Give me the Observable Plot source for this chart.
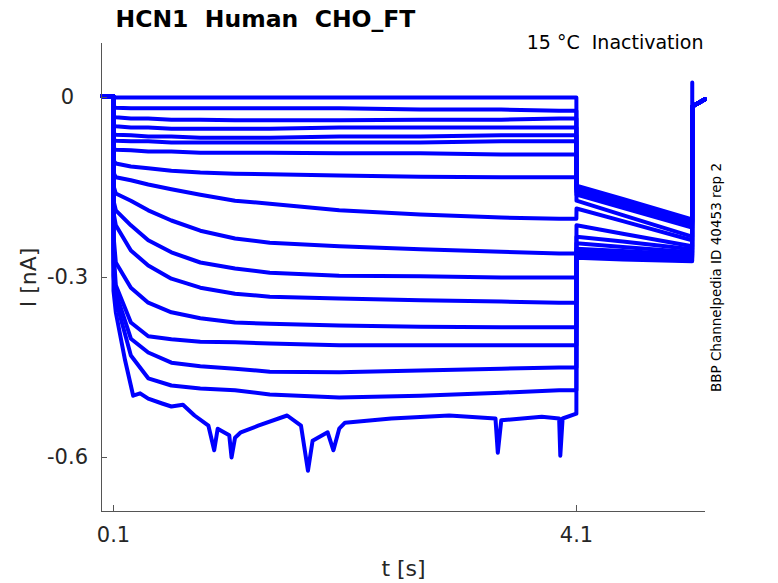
<!DOCTYPE html>
<html><head><meta charset="utf-8">
<script src="https://cdn.jsdelivr.net/npm/d3@7"></script>
<script src="https://cdn.jsdelivr.net/npm/@observablehq/plot@0.6"></script>
<style>body{margin:0;background:#fff} svg{display:block}</style>
</head><body><div id="chart"></div>
<script>
// ---- chart text ----
const titleText = "HCN1\u00a0\u00a0Human\u00a0\u00a0CHO_FT";
const conditionText = "15 °C\u00a0\u00a0Inactivation";
const sourceText = "BBP Channelpedia ID 40453 rep 2";
const xLabel = "t [s]";
const yLabel = "I [nA]";

// ---- axes ----
const tDomain = [-0.0037, 5.2145];
const iDomain = [-0.69, 0.09];
const xTicks = [0.1, 4.1];
const yTicks = [0, -0.3, -0.6];

// ---- protocol times (s) ----
const holdTimes = [0, 0.099];
const holdLevel = 0.002;
const stepTimes = [0.1, 0.12, 0.25, 0.4, 0.6, 0.85, 1.15, 1.45, 2.05, 2.75, 3.45, 3.95, 4.099];
const tailTimes = [4.1, 4.5, 5.099];
const returnTimes = [5.1, 5.21];
const returnLevels = [-0.015, -0.003];
const returnSpike = 0.025;

// ---- currents (nA) during the conditioning step, traces 1..16 ----
const stepCurrents = [
  [0, 0, 0, 0, 0, 0, 0, 0, 0, 0, 0, 0, 0],
  [-0.015, -0.017, -0.018, -0.018, -0.018, -0.018, -0.018, -0.018, -0.018, -0.02, -0.02, -0.022, -0.022],
  [-0.032, -0.033, -0.035, -0.035, -0.037, -0.037, -0.038, -0.038, -0.038, -0.037, -0.037, -0.035, -0.035],
  [-0.047, -0.048, -0.05, -0.05, -0.052, -0.052, -0.052, -0.052, -0.05, -0.05, -0.05, -0.05, -0.05],
  [-0.06, -0.062, -0.063, -0.065, -0.065, -0.067, -0.067, -0.067, -0.065, -0.065, -0.063, -0.063, -0.063],
  [-0.07, -0.072, -0.073, -0.073, -0.075, -0.075, -0.075, -0.075, -0.075, -0.075, -0.073, -0.073, -0.073],
  [-0.085, -0.087, -0.088, -0.09, -0.09, -0.092, -0.092, -0.092, -0.093, -0.093, -0.095, -0.095, -0.095],
  [-0.105, -0.11, -0.115, -0.118, -0.122, -0.125, -0.127, -0.128, -0.13, -0.132, -0.133, -0.133, -0.133],
  [-0.125, -0.133, -0.138, -0.145, -0.153, -0.162, -0.172, -0.177, -0.188, -0.195, -0.2, -0.202, -0.202],
  [-0.147, -0.16, -0.172, -0.188, -0.205, -0.222, -0.235, -0.242, -0.248, -0.253, -0.257, -0.26, -0.26],
  [-0.172, -0.188, -0.213, -0.238, -0.258, -0.275, -0.285, -0.292, -0.297, -0.298, -0.3, -0.3, -0.3],
  [-0.192, -0.213, -0.255, -0.28, -0.302, -0.317, -0.327, -0.332, -0.335, -0.338, -0.34, -0.342, -0.342],
  [-0.23, -0.275, -0.317, -0.342, -0.358, -0.368, -0.375, -0.377, -0.38, -0.382, -0.383, -0.383, -0.383],
  [-0.255, -0.313, -0.375, -0.398, -0.403, -0.407, -0.408, -0.41, -0.413, -0.413, -0.413, -0.413, -0.413],
  [-0.275, -0.325, -0.402, -0.425, -0.442, -0.448, -0.452, -0.457, -0.458, -0.455, -0.452, -0.45, -0.45],
  [-0.297, -0.338, -0.43, -0.468, -0.48, -0.485, -0.488, -0.495, -0.5, -0.497, -0.492, -0.488, -0.488]
];

// ---- deepest trace (17), noisier, read point by point ----
const bottomTimes = [0.1, 0.12, 0.2, 0.27, 0.33, 0.4, 0.52, 0.6, 0.7, 0.8, 0.92, 0.97, 1.0, 1.1, 1.12, 1.15, 1.2, 1.35, 1.6, 1.72, 1.78, 1.82, 1.95, 2.0, 2.05, 2.1, 2.5, 3.0, 3.4, 3.42, 3.45, 3.8, 3.95, 3.96, 3.98, 4.099];
const bottomCurrents = [-0.322, -0.358, -0.438, -0.497, -0.493, -0.502, -0.51, -0.515, -0.512, -0.53, -0.547, -0.588, -0.552, -0.563, -0.6, -0.567, -0.558, -0.547, -0.53, -0.547, -0.622, -0.572, -0.558, -0.588, -0.552, -0.542, -0.535, -0.53, -0.535, -0.592, -0.538, -0.532, -0.535, -0.597, -0.535, -0.527];

// ---- tail currents (nA) at tailTimes, traces 1..17 ----
const tailCurrents = [
  [-0.147, -0.169, -0.203],
  [-0.148, -0.171, -0.205],
  [-0.15, -0.173, -0.207],
  [-0.152, -0.174, -0.208],
  [-0.153, -0.176, -0.21],
  [-0.157, -0.179, -0.213],
  [-0.162, -0.184, -0.217],
  [-0.172, -0.196, -0.232],
  [-0.185, -0.206, -0.238],
  [-0.213, -0.227, -0.248],
  [-0.232, -0.24, -0.253],
  [-0.243, -0.249, -0.258],
  [-0.252, -0.256, -0.262],
  [-0.257, -0.261, -0.265],
  [-0.26, -0.264, -0.268],
  [-0.263, -0.267, -0.272],
  [-0.267, -0.27, -0.273]
];

// ---- build the table ----
const rows = [];
function addTrace(k, times, vals) {
  holdTimes.forEach(t => rows.push({k, t, i: holdLevel}));
  times.forEach((t, j) => rows.push({k, t, i: vals[j]}));
  tailTimes.forEach((t, j) => rows.push({k, t, i: tailCurrents[k][j]}));
  if (k === 0) rows.push({k, t: returnTimes[0], i: returnSpike});
  returnTimes.forEach((t, j) => rows.push({k, t, i: returnLevels[j]}));
}
stepCurrents.forEach((vals, k) => addTrace(k, stepTimes, vals));
addTrace(stepCurrents.length, bottomTimes, bottomCurrents);

const font = "DejaVu Sans, Liberation Sans, sans-serif";
const ink = "#262626";
const fmt = d => d === 0 ? "0" : String(d);

const chart = Plot.plot({
  width: 778,
  height: 583,
  marginLeft: 101,
  marginRight: 73,
  marginTop: 43,
  marginBottom: 72,
  style: {fontFamily: font, color: ink, background: "#fff", overflow: "visible"},
  x: {domain: tDomain, axis: null},
  y: {domain: iDomain, axis: null},
  marks: [
    Plot.line(rows, {x: "t", y: "i", z: "k", stroke: "#0000ff", strokeWidth: 4, curve: "linear", strokeLinejoin: "round"}),
    Plot.ruleX([tDomain[0]], {stroke: "#555", strokeWidth: 1}),
    Plot.ruleY([iDomain[0]], {stroke: "#555", strokeWidth: 1}),
    Plot.axisY(yTicks, {tickSize: -6, tickFormat: () => "", label: null, stroke: "#555"}),
    Plot.axisY(yTicks, {tickSize: 0, tickPadding: 34, textAnchor: "middle", tickFormat: fmt, label: null, fontSize: 21, fill: ink}),
    Plot.axisX(xTicks, {tickSize: -6, tickFormat: () => "", label: null, stroke: "#555"}),
    Plot.axisX(xTicks, {tickSize: 0, tickPadding: 16, tickFormat: fmt, label: null, fontSize: 21, fill: ink}),
    Plot.text([titleText], {frameAnchor: "top-left", textAnchor: "start", lineAnchor: "bottom", dx: 14, dy: -17, fontSize: 23.5, fontWeight: "bold", fill: "#000"}),
    Plot.text([conditionText], {frameAnchor: "top-right", textAnchor: "end", lineAnchor: "bottom", dx: -2, dy: 5, fontSize: 19, fill: "#000"}),
    Plot.text([sourceText], {frameAnchor: "right", textAnchor: "middle", lineAnchor: "middle", rotate: -90, dx: 11, fontSize: 13.5, fill: "#000"}),
    Plot.text([yLabel], {frameAnchor: "left", textAnchor: "middle", lineAnchor: "middle", rotate: -90, dx: -73, fontSize: 22, fill: ink}),
    Plot.text([xLabel], {frameAnchor: "bottom", textAnchor: "middle", lineAnchor: "middle", dy: 57, fontSize: 22, fill: ink})
  ]
});
document.getElementById("chart").appendChild(chart);
</script></body></html>
